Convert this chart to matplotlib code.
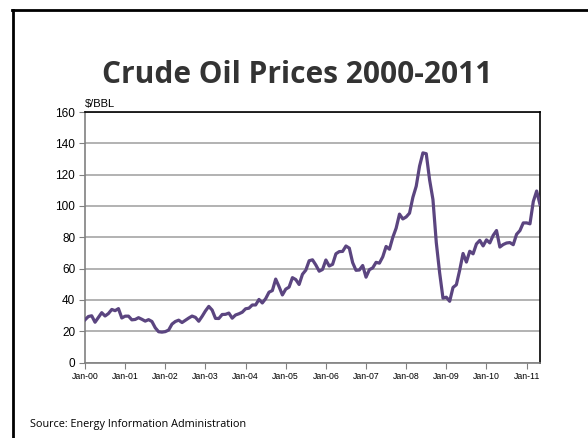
import matplotlib
matplotlib.use("Agg")
import matplotlib.pyplot as plt
from matplotlib.lines import Line2D

# Monthly crude oil price ($/BBL), Jan 2000 .. May 2011
prices = [
    27.26, 29.37, 29.84, 25.72, 28.79, 31.82, 29.70, 31.26, 33.88, 33.11, 34.42, 28.44,
    29.59, 29.61, 27.25, 27.49, 28.63, 27.60, 26.43, 27.37, 26.20, 22.17, 19.64, 19.39,
    19.72, 20.72, 24.53, 26.18, 27.04, 25.52, 26.97, 28.39, 29.66, 28.84, 26.35, 29.46,
    32.95, 35.83, 33.51, 28.17, 28.11, 30.66, 30.76, 31.57, 28.31, 30.34, 31.11, 32.13,
    34.31, 34.69, 36.74, 36.75, 40.28, 38.03, 40.78, 44.90, 45.94, 53.28, 48.47, 43.15,
    46.84, 48.15, 54.19, 52.98, 49.83, 56.35, 59.00, 64.99, 65.59, 62.26, 58.32, 59.41,
    65.49, 61.63, 62.69, 69.44, 70.84, 70.95, 74.41, 73.04, 63.80, 58.89, 59.08, 61.96,
    54.51, 59.28, 60.44, 63.98, 63.46, 67.49, 74.12, 72.36, 79.92, 85.80, 94.77, 91.69,
    92.97, 95.39, 105.45, 112.58, 125.40, 133.88, 133.37, 116.67, 104.11, 76.61, 57.31, 41.12,
    41.71, 39.09, 47.94, 49.65, 59.03, 69.64, 64.15, 71.05, 69.41, 75.72, 77.99, 74.47,
    78.33, 76.39, 81.20, 84.29, 73.74, 75.34, 76.32, 76.60, 75.24, 81.89, 84.25, 89.15,
    89.17, 88.58, 102.86, 109.53, 100.90,
]
year_labels = ["Jan-00", "Jan-01", "Jan-02", "Jan-03", "Jan-04", "Jan-05",
               "Jan-06", "Jan-07", "Jan-08", "Jan-09", "Jan-10", "Jan-11"]
y_ticks = [0, 20, 40, 60, 80, 100, 120, 140, 160]

fig = plt.figure(figsize=(5.88, 4.38), dpi=100)

# slide border (only top and left edges show)
fig.add_artist(Line2D([12.7 / 588, 12.7 / 588], [0, 1 - 10 / 438], color="black", lw=2))
fig.add_artist(Line2D([12 / 588, 1], [1 - 10 / 438, 1 - 10 / 438], color="black", lw=2))

fig.text(0.505, 1 - 83 / 438, "Crude Oil Prices 2000-2011", ha="center", va="baseline",
         fontsize=21.5, fontweight="bold", family="Open Sans", color="#333333")

ax = fig.add_axes([85 / 588, 1 - 362.5 / 438, (540 - 85) / 588, (362.5 - 112) / 438])
months = list(range(len(prices)))
ax.plot(months, prices, color="#5b4580", lw=2.3, solid_joinstyle="round", zorder=3)

ax.set_xlim(0, 136)
ax.set_ylim(0, 160)
ax.set_yticks(y_ticks)
ax.set_xticks([12 * i for i in range(len(year_labels))])
ax.set_xticklabels(year_labels)
ax.grid(axis="y", color="#a6a6a6", lw=1.2)
ax.set_axisbelow(True)

for s in ["top", "right"]:
    ax.spines[s].set_color("black")
    ax.spines[s].set_linewidth(1.2)
for s in ["left", "bottom"]:
    ax.spines[s].set_color("#808080")
    ax.spines[s].set_linewidth(1.2)

ax.tick_params(axis="y", labelsize=8.5, length=4, color="#808080", pad=3)
ax.tick_params(axis="x", labelsize=6.3, length=4, color="#808080", pad=3)
for lab in ax.get_xticklabels() + ax.get_yticklabels():
    lab.set_family("Liberation Sans")

ax.text(0.0, 1.01, "$/BBL", transform=ax.transAxes, fontsize=8, family="Liberation Sans",
        ha="left", va="bottom")

fig.text(30 / 588, 1 - 425 / 438, "Source: Energy Information Administration",
         fontsize=7.8, family="Open Sans", ha="left", va="center")

fig.savefig("out.png", dpi=100)
